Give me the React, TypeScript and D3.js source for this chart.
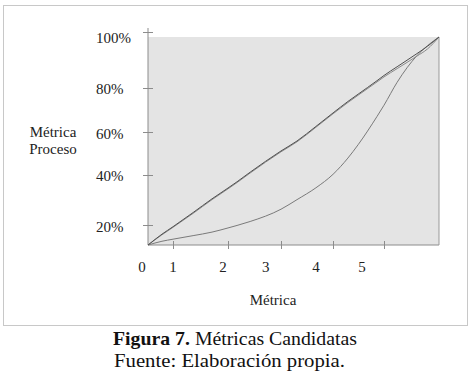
import React from 'react';
import * as d3 from 'd3';

// fractions of the plot box (0..1 on both axes)
const xValues = [0, 0.048, 0.086, 0.155, 0.22, 0.275, 0.306, 0.351, 0.457, 0.512, 0.577, 0.636, 0.687, 0.722, 0.787, 0.811, 0.856, 0.924, 0.96, 1];
const upperA = [0, 0.052, 0.088, 0.156, 0.222, 0.274, 0.304, 0.35, 0.452, 0.5, 0.57, 0.635, 0.69, 0.725, 0.79, 0.815, 0.857, 0.92, 0.955, 1];
const upperB = [0, 0.049, 0.085, 0.152, 0.218, 0.27, 0.3, 0.346, 0.448, 0.496, 0.566, 0.631, 0.685, 0.72, 0.784, 0.808, 0.848, 0.908, 0.942, 1];
const lower = [0, 0.018, 0.028, 0.045, 0.062, 0.082, 0.094, 0.113, 0.172, 0.218, 0.275, 0.34, 0.418, 0.482, 0.618, 0.672, 0.782, 0.91, 0.958, 1];

const xTickValues = [0.086, 0.275, 0.457, 0.636, 0.811];
const xLabels = ['0', '1', '2', '3', '4', '5'];
const xLabelPos = [-0.021, 0.086, 0.258, 0.405, 0.577, 0.735];

const yTickValues = [0.096, 0.337, 0.543, 0.755, 1.024];
const yLabels = ['20%', '40%', '60%', '80%', '100%'];
const yLabelPos = [0.087, 0.332, 0.534, 0.75, 0.995];

const W = 472;
const H = 388;
const font = '"Liberation Serif", "Times New Roman", serif';

export default function App() {
  const left = 148, right = 439, top = 37, bottom = 245;

  const x = d3.scaleLinear().domain([0, 1]).range([left, right]);
  const y = d3.scaleLinear().domain([0, 1]).range([bottom, top]);

  const line = d3.line<number>()
    .x((d, i) => x(xValues[i]))
    .y(d => y(d))
    .curve(d3.curveMonotoneX);

  const axisColor = '#8c8c8c';

  return (
    <svg width={W} height={H} style={{ position: 'absolute', left: 0, top: 0, background: '#fff' }}
      fontFamily={font}>
      <rect x={3.5} y={5.5} width={464} height={320} fill="none" stroke="#c8c8c8" />

      <rect x={left} y={top} width={right - left} height={bottom - top} fill="#e4e4e4" />

      {/* axes */}
      <line x1={left} x2={left} y1={28} y2={bottom} stroke={axisColor} />
      <line x1={left} x2={right} y1={bottom} y2={bottom} stroke={axisColor} />
      <line x1={right} x2={right} y1={top} y2={bottom} stroke="#999" />

      {yTickValues.map((v, i) => (
        <line key={'yt' + i} x1={left - 5} x2={left + 5} y1={Math.round(y(v)) + 0.5} y2={Math.round(y(v)) + 0.5} stroke={axisColor} />
      ))}
      {xTickValues.map((v, i) => (
        <line key={'xt' + i} x1={Math.round(x(v)) + 0.5} x2={Math.round(x(v)) + 0.5} y1={bottom - 4} y2={bottom + 4} stroke={axisColor} />
      ))}

      {/* curves */}
      <path d={line(lower) || ''} fill="none" stroke="#7a7a7a" strokeWidth={1} />
      <path d={line(upperB) || ''} fill="none" stroke="#8a8a8a" strokeWidth={1} />
      <path d={line(upperA) || ''} fill="none" stroke="#505050" strokeWidth={1} />

      {/* tick labels */}
      {yLabels.map((t, i) => (
        <text key={'yl' + i} x={96} y={y(yLabelPos[i])} dy="0.34em" fontSize={15} fill="#222">{t}</text>
      ))}
      {xLabels.map((t, i) => (
        <text key={'xl' + i} x={x(xLabelPos[i])} y={272} textAnchor="middle" fontSize={15} fill="#222">{t}</text>
      ))}

      {/* axis titles */}
      <text x={53} y={137} textAnchor="middle" fontSize={15} fill="#222">Métrica</text>
      <text x={53} y={154} textAnchor="middle" fontSize={15} fill="#222">Proceso</text>
      <text x={273} y={305} textAnchor="middle" fontSize={15} fill="#222">Métrica</text>

      {/* caption */}
      <text x={113} y={345} fontSize={19} fill="#111" textLength={244} lengthAdjust="spacingAndGlyphs">
        <tspan fontWeight="bold">Figura 7.</tspan> Métricas Candidatas
      </text>
      <text x={114} y={367} fontSize={19} fill="#111" textLength={231} lengthAdjust="spacingAndGlyphs">Fuente: Elaboración propia.</text>
    </svg>
  );
}
